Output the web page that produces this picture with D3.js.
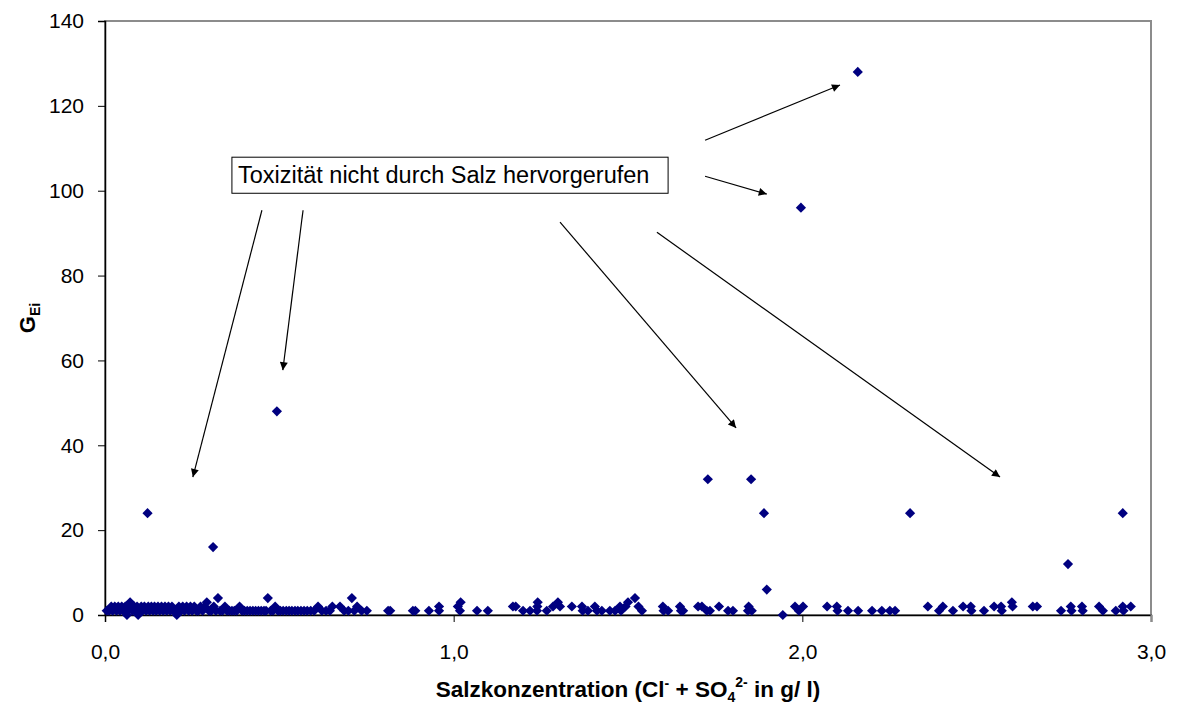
<!DOCTYPE html>
<html>
<head>
<meta charset="utf-8">
<script src="https://cdn.jsdelivr.net/npm/d3@7"></script>
<style>
  body { margin: 0; background: #fff; }
  svg { display: block; font-family: Arial, "Liberation Sans", sans-serif; }
</style>
</head>
<body>
<main></main>
<script>
(function(){

  // DATA
  const saltConc = [
    0.005,0.012,0.018,0.022,0.028,0.033,0.038,0.043,0.048,0.053,0.058,0.063,0.066,0.072,0.075,0.079,0.084,0.088,0.092,0.095,
    0.099,0.104,0.108,0.113,0.118,0.122,0.124,0.128,0.133,0.138,0.142,0.147,0.152,0.157,0.162,0.167,0.172,0.177,0.182,0.187,
    0.192,0.197,0.203,0.206,0.212,0.218,0.223,0.228,0.234,0.240,0.245,0.250,0.256,0.262,0.268,0.274,0.280,0.286,0.292,0.298,
    0.305,0.310,0.312,0.318,0.324,0.330,0.337,0.344,0.350,0.357,0.364,0.371,0.378,0.386,0.393,0.400,0.408,0.416,0.424,0.432,
    0.440,0.448,0.456,0.462,0.467,0.475,0.482,0.488,0.493,0.496,0.503,0.511,0.520,0.528,0.536,0.545,0.553,0.562,0.571,0.580,
    0.590,0.600,0.611,0.622,0.634,0.645,0.652,0.674,0.686,0.698,0.708,0.715,0.723,0.736,0.751,0.812,0.818,0.883,0.890,0.929,
    0.958,0.958,1.012,1.018,1.020,1.067,1.098,1.170,1.178,1.199,1.219,1.239,1.240,1.241,1.267,1.285,1.299,1.305,1.339,1.368,
    1.370,1.385,1.405,1.411,1.425,1.448,1.463,1.477,1.480,1.493,1.500,1.520,1.530,1.540,1.600,1.602,1.615,1.649,1.652,1.658,
    1.701,1.712,1.726,1.729,1.735,1.761,1.787,1.801,1.844,1.846,1.853,1.855,1.890,1.898,1.944,1.979,1.990,1.996,2.002,2.071,
    2.099,2.101,2.131,2.159,2.160,2.200,2.228,2.251,2.266,2.309,2.360,2.392,2.403,2.432,2.461,2.483,2.485,2.521,2.550,2.570,
    2.572,2.601,2.603,2.661,2.673,2.742,2.762,2.770,2.772,2.802,2.804,2.851,2.862,2.899,2.919,2.919,2.921,2.942
  ];
  const gEi = [
    1,1,2,1,2,1,2,1,2,1,2,0,1,3,2,1,2,1,2,0,
    1,2,1,2,1,24,2,1,2,1,2,1,2,1,2,1,2,1,2,1,
    2,1,1,0,2,1,2,1,2,1,2,1,2,1,1,2,1,2,3,1,
    1,16,2,1,4,1,1,2,1,1,1,1,1,2,1,1,1,1,1,1,
    1,1,1,1,4,1,1,2,48,1,1,1,1,1,1,1,1,1,1,1,
    1,1,2,1,1,1,2,2,1,1,4,1,2,1,1,1,1,1,1,1,
    1,2,2,1,3,1,1,2,2,1,1,1,2,3,1,2,3,2,2,2,
    1,1,2,1,1,1,1,2,1,2,3,4,2,1,2,1,1,2,1,1,
    2,2,1,32,1,2,1,1,1,2,32,1,24,6,0,2,1,96,2,2,
    2,1,1,128,1,1,1,1,1,24,2,1,2,1,2,2,1,1,2,2,
    1,3,2,2,2,1,12,2,1,2,1,2,1,1,24,2,1,2
  ];
  const xTicks = [0, 1, 2, 3];
  const yTicks = [0, 20, 40, 60, 80, 100, 120, 140];
  const noteText = "Toxizität nicht durch Salz hervorgerufen";
  // arrows: start and end in data units
  const arrowsFrom = [[0.450, 95.4], [0.568, 95.4], [1.305, 92.6], [1.583, 90.2], [1.721, 111.9], [1.721, 103.4]];
  const arrowsTo   = [[0.252, 32.5], [0.510, 57.7], [1.810, 44.1], [2.567, 32.5], [2.108, 124.9], [1.898, 99.2]];

  const w = 1177,
    h = 706,
    left = 105,
    right = 1151,
    top = 21,
    bottom = 615;

  const points = saltConc.map((x, i) => ({x: x, y: gEi[i]}));

  // SVG
  const svg = d3.select("main")
    .append("svg")
    .attr("width", w)
    .attr("height", h);

  const defs = svg.append("defs");
  defs.append("marker")
    .attr("id", "arrow")
    .attr("viewBox", "0 0 10 10")
    .attr("refX", 10)
    .attr("refY", 5)
    .attr("markerWidth", 11)
    .attr("markerHeight", 8)
    .attr("markerUnits", "userSpaceOnUse")
    .attr("orient", "auto")
    .append("path")
    .attr("d", "M0,0 L10,5 L0,10 z")
    .attr("fill", "#000");

  // SCALES
  const xScale = d3.scaleLinear().domain([0, 3]).range([left, right]);
  const yScale = d3.scaleLinear().domain([0, 140]).range([bottom, top]);

  // PLOT AREA BORDER
  svg.append("rect")
    .attr("x", left)
    .attr("y", top)
    .attr("width", right - left)
    .attr("height", bottom - top)
    .attr("fill", "none")
    .attr("stroke", "#8c8c8c")
    .attr("stroke-width", 2);

  // AXES
  const xAxis = d3.axisBottom(xScale)
    .tickValues(xTicks)
    .tickSize(7)
    .tickPadding(22)
    .tickFormat(d => d3.format(".1f")(d).replace(".", ","));

  const yAxis = d3.axisLeft(yScale)
    .tickValues(yTicks)
    .tickSize(7)
    .tickPadding(14);

  const gx = svg.append("g")
    .attr("transform", "translate(0," + bottom + ")")
    .call(xAxis);
  const gy = svg.append("g")
    .attr("transform", "translate(" + left + ",0)")
    .call(yAxis);

  [gx, gy].forEach(g => {
    g.select(".domain").attr("stroke", "#000").attr("stroke-width", 1.5);
    g.selectAll(".tick line").attr("stroke", "#000");
    g.selectAll(".tick text")
      .attr("font-size", 21)
      .attr("font-family", "Arial, 'Liberation Sans', sans-serif")
      .attr("fill", "#000");
  });
  gx.select(".tick:last-of-type line").attr("stroke", "#8c8c8c").attr("stroke-width", 2);

  // POINTS
  const diamond = d3.symbol(d3.symbolSquare, 52);
  svg.append("g")
    .selectAll("path")
    .data(points)
    .join("path")
    .attr("d", diamond)
    .attr("transform", d => "translate(" + xScale(d.x) + "," + yScale(d.y) + ") rotate(45)")
    .attr("fill", "#000080");

  // ANNOTATION
  const boxX = xScale(0.364),
    boxY = yScale(107.9),
    boxW = xScale(1.615) - boxX,
    boxH = yScale(99.4) - boxY;
  svg.append("rect")
    .attr("x", boxX)
    .attr("y", boxY)
    .attr("width", boxW)
    .attr("height", boxH)
    .attr("fill", "#fff")
    .attr("stroke", "#000")
    .attr("stroke-width", 1);
  svg.append("text")
    .attr("x", boxX + 6)
    .attr("y", boxY + boxH / 2 + 8)
    .attr("font-size", 23.5)
    .text(noteText);

  svg.append("g")
    .selectAll("line")
    .data(arrowsFrom)
    .join("line")
    .attr("x1", d => xScale(d[0]))
    .attr("y1", d => yScale(d[1]))
    .attr("x2", (d, i) => xScale(arrowsTo[i][0]))
    .attr("y2", (d, i) => yScale(arrowsTo[i][1]))
    .attr("stroke", "#000")
    .attr("stroke-width", 1.2)
    .attr("marker-end", "url(#arrow)");

  // AXIS TITLES
  const xTitle = svg.append("text")
    .attr("x", (left + right) / 2)
    .attr("y", 697)
    .attr("text-anchor", "middle")
    .attr("font-size", 22.5)
    .attr("font-weight", "bold");
  xTitle.append("tspan").text("Salzkonzentration (Cl");
  xTitle.append("tspan").attr("dy", -9).attr("font-size", 14).text("-");
  xTitle.append("tspan").attr("dy", 9).text(" + SO");
  xTitle.append("tspan").attr("dy", 5).attr("font-size", 14).text("4");
  xTitle.append("tspan").attr("dy", -15).attr("font-size", 14).text("2-");
  xTitle.append("tspan").attr("dy", 10).text(" in g/ l)");

  const yTitle = svg.append("text")
    .attr("transform", "translate(35," + ((top + bottom) / 2) + ") rotate(-90)")
    .attr("text-anchor", "middle")
    .attr("font-size", 22)
    .attr("font-weight", "bold");
  yTitle.append("tspan").text("G");
  yTitle.append("tspan").attr("dy", 5).attr("font-size", 14).text("Ei");

})()
</script>
</body>
</html>
